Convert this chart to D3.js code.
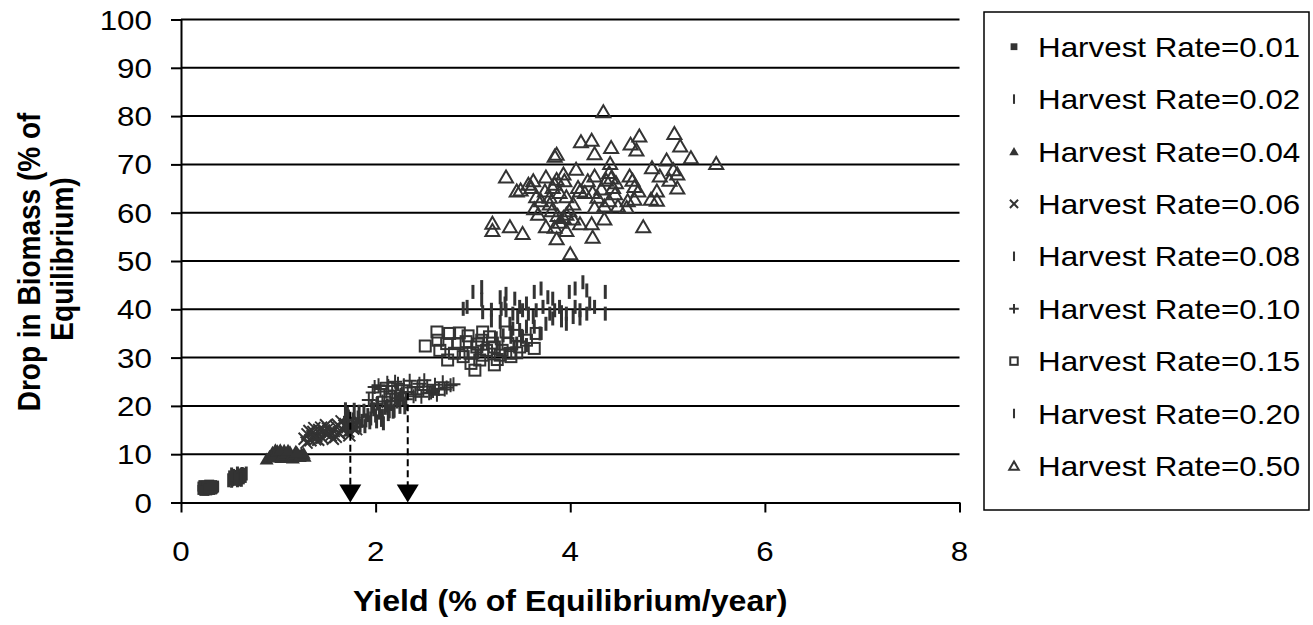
<!DOCTYPE html>
<html>
<head>
<meta charset="utf-8">
<script src="https://cdn.jsdelivr.net/npm/d3@7"></script>
<style>
  html, body { margin: 0; padding: 0; background: #fff; }
  svg { display: block; }
  text { font-family: "Liberation Sans", Arial, Helvetica, sans-serif; fill: #000; }
</style>
</head>
<body>
<svg id="chart" width="1313" height="625"></svg>
<script>
// ---- Data -------------------------------------------------------------
const seriesNames = ["Harvest Rate=0.01", "Harvest Rate=0.02", "Harvest Rate=0.04",
  "Harvest Rate=0.06", "Harvest Rate=0.08", "Harvest Rate=0.10",
  "Harvest Rate=0.15", "Harvest Rate=0.20", "Harvest Rate=0.50"];

const xTicks = [0, 2, 4, 6, 8];
const yTicks = [0, 10, 20, 30, 40, 50, 60, 70, 80, 90, 100];

const rate001X = [0.22,0.24,0.26,0.28,0.30,0.32,0.34,0.23,0.25,0.27,0.29,0.31,0.33,0.22,0.26,0.30,0.34,0.24,0.28,0.32];
const rate001Y = [2.6,3.0,2.8,3.4,3.1,2.7,3.5,3.6,3.3,2.5,3.7,3.2,2.9,3.3,3.5,2.6,3.1,2.4,3.0,3.6];

const rate002X = [0.49,0.51,0.53,0.55,0.57,0.59,0.61,0.63,0.65,0.67,0.50,0.52,0.54,0.56,0.58,0.60,0.62,0.64,0.66,0.52,0.58,0.62];
const rate002Y = [4.6,5.0,4.8,5.3,5.1,5.6,5.4,5.9,5.7,6.0,5.2,4.5,5.5,4.9,6.0,4.8,5.8,5.2,5.5,5.8,4.6,4.7];

const rate004X = [0.88,0.91,0.94,0.97,1.00,1.03,1.06,1.09,1.12,1.15,1.18,1.21,1.24,1.27,0.95,0.99,1.04,1.08,1.13,1.17,1.22,1.26,1.02,1.10,1.19];
const rate004Y = [9.0,9.6,10.4,10.9,10.2,9.3,10.8,9.8,10.5,9.2,10.6,9.9,10.1,9.6,9.4,10.7,9.9,10.3,9.5,10.0,9.5,10.2,10.9,10.8,10.4];

const rate006X = [1.27,1.30,1.33,1.36,1.39,1.42,1.45,1.48,1.51,1.54,1.57,1.60,1.63,1.66,1.69,1.72,1.75,1.78,1.32,1.38,1.44,1.50,1.56,1.62,1.68,1.74,1.80,1.35,1.47,1.59,1.71,1.29,1.41,1.53,1.65,1.77,1.37,1.49,1.61,1.73,1.83];
const rate006Y = [13.2,14.1,12.9,14.6,13.8,15.0,13.4,14.4,15.3,13.9,14.8,15.6,14.2,15.1,16.2,14.7,15.8,16.5,14.8,13.1,15.5,14.0,13.2,14.5,15.9,16.4,15.2,13.7,14.9,13.6,15.7,12.4,13.0,14.6,16.8,15.3,15.4,16.0,16.1,13.9,16.8];

const rate008X = [1.68,1.71,1.74,1.77,1.80,1.83,1.86,1.89,1.92,1.95,1.98,2.01,2.04,2.07,2.10,2.13,2.16,2.19,2.22,2.25,2.28,2.31,1.70,1.76,1.82,1.88,1.94,2.00,2.06,2.12,2.18,2.24,2.30,1.69,1.72,1.78,1.84,1.90,1.96,2.02,2.08,2.14,2.20,2.26];
const rate008Y = [16.5,18.4,15.3,17.2,16.0,18.8,16.9,15.8,18.1,17.4,19.3,16.8,18.6,17.9,19.6,18.3,20.4,19.0,20.9,19.8,21.6,20.5,15.1,16.3,17.6,19.0,16.6,18.0,17.1,20.1,18.8,21.4,19.7,19.3,17.8,19.2,15.9,17.0,19.9,20.6,16.4,18.9,21.7,22.3];

const rate010X = [1.93,1.97,2.01,2.05,2.09,2.13,2.17,2.21,2.25,2.29,2.33,2.37,2.41,2.45,2.49,2.53,2.57,2.61,2.65,2.69,2.73,2.77,1.99,2.07,2.15,2.23,2.31,2.39,2.47,2.55,2.63,2.71,2.11,2.27,2.43,2.59,2.03,2.12,2.20,2.35,2.50,2.80];
const rate010Y = [21.2,22.8,20.4,23.5,21.9,24.1,22.5,23.2,21.6,24.3,22.9,23.8,22.4,24.6,23.3,24.0,22.8,24.4,23.5,24.9,23.8,24.3,23.9,20.9,21.0,24.6,21.4,22.0,21.9,22.6,22.3,23.4,23.0,22.6,23.9,23.1,24.3,24.8,25.0,25.2,25.3,24.5];

const rate015X = [2.51,2.63,2.64,2.66,2.74,2.76,2.86,2.85,2.81,2.90,2.93,2.98,3.02,3.07,3.10,3.09,3.04,3.14,3.17,3.22,3.22,3.28,3.34,3.36,3.38,3.45,3.48,3.55,3.63,3.65,3.39,2.73,2.97,3.00,3.10,3.20,3.30,3.05,2.95,3.25,3.45];
const rate015Y = [32.4,35.3,33.6,31.5,29.5,35.0,35.1,32.9,30.9,30.2,33.3,28.8,27.4,29.5,35.3,33.6,32.2,31.5,34.3,32.2,28.5,30.5,35.3,32.9,30.9,34.6,32.2,33.6,31.9,35.0,30.2,32.9,30.9,31.0,30.5,33.0,31.5,32.8,34.5,29.6,31.0];

const rate020X = [3.09,3.09,3.00,2.90,2.94,3.10,3.19,3.28,3.34,3.33,3.43,3.48,3.55,3.63,3.70,3.77,3.82,3.99,4.05,4.13,4.17,4.36,4.36,4.25,4.20,4.10,4.10,4.03,3.96,3.91,3.96,3.91,3.84,3.79,3.75,3.72,3.65,3.62,3.57,3.51,3.46,3.41,3.38,3.34,3.29,3.28,3.19,3.41,3.48,3.55,3.63,3.69,3.51,3.39,3.31,3.24,3.45,3.55,3.82,3.89,4.17,4.05];
const rate020Y = [44.6,42.0,43.6,40.1,40.5,39.4,39.9,42.5,43.2,41.2,42.2,40.5,41.2,43.6,44.3,42.5,42.2,43.6,44.3,45.6,43.9,43.6,39.1,40.5,41.2,39.8,38.1,38.4,39.1,39.4,37.0,37.7,39.8,39.1,37.0,40.5,39.8,38.4,39.1,39.8,38.4,39.1,37.0,39.8,40.1,37.4,37.7,36.0,35.7,36.4,36.4,35.0,34.3,34.3,34.6,34.0,32.9,32.6,38.1,40.5,39.1,40.5];

const rate050X = [4.34,4.11,4.22,4.42,4.25,3.86,3.84,4.71,4.62,4.68,5.07,5.13,5.24,5.50,4.99,4.84,5.06,5.10,5.02,5.10,4.92,4.89,4.83,4.89,4.75,4.41,4.40,4.42,4.37,4.47,4.61,4.64,4.66,4.70,4.66,4.58,4.49,4.40,4.35,4.35,4.25,4.06,4.25,4.18,4.08,4.15,4.23,4.32,4.28,4.22,4.23,4.00,3.34,3.49,3.57,3.62,3.75,3.86,3.93,3.94,3.65,3.74,3.82,3.79,3.89,3.96,4.03,3.63,3.67,3.79,3.81,3.87,3.96,4.03,4.10,3.89,3.75,3.84,3.96,3.86,3.20,3.20,3.38,3.51,4.10,4.44,4.46,4.59,3.93,3.99,3.70,3.60,3.84,3.45];
const rate050Y = [80.9,74.7,75.0,73.5,72.2,72.1,71.7,75.9,74.2,73.0,76.4,73.8,71.4,70.2,70.9,69.3,68.9,68.0,66.7,65.1,67.6,64.5,62.8,62.6,57.1,70.2,68.3,67.2,66.7,66.2,67.6,66.7,65.4,64.5,62.8,61.1,61.4,62.5,61.4,58.7,61.1,69.0,67.6,66.6,65.2,64.2,64.2,64.9,63.2,57.7,54.9,51.5,67.4,64.7,65.9,66.6,67.4,66.9,68.0,66.6,63.3,64.5,65.2,63.2,64.2,63.3,61.8,60.8,59.7,61.8,60.4,59.4,59.7,58.7,57.7,58.0,57.1,57.0,56.3,54.6,57.8,56.3,57.1,55.7,64.5,65.2,63.9,62.5,59.0,60.4,62.5,65.2,65.9,64.5];

// Annotation arrows: yield at which each arrow points, and the drop where its line starts
const arrowYield = [1.74, 2.33];
const arrowDrop = [18.8, 22.6];

// ---- Layout -----------------------------------------------------------
const INK = "#333333";
const SX = 1.12;               // horizontal stretch applied to all text
const svg = d3.select("#chart");

const x = d3.scaleLinear().domain([0, 8]).range([181, 959.5]);
const y = d3.scaleLinear().domain([0, 100]).range([502.5, 19.5]);

// Marker shapes, drawn around (0,0); k scales them for the legend
const markers = {
  fsquare: (g, k) => g.append("rect").attr("x", -5*k).attr("y", -5*k).attr("width", 10*k).attr("height", 10*k).attr("fill", INK),
  dash: (g, k) => g.append("rect").attr("x", -1.5*k).attr("y", -7*k).attr("width", 3*k).attr("height", 14*k).attr("fill", INK),
  ftri: (g, k) => g.append("path").attr("d", `M${-7*k},${5.5*k}L0,${-6.5*k}L${7*k},${5.5*k}Z`).attr("fill", INK),
  xcross: (g, k) => g.append("path").attr("d", `M${-6*k},${-6*k}L${6*k},${6*k}M${-6*k},${6*k}L${6*k},${-6*k}`).attr("stroke", INK).attr("stroke-width", 2).attr("fill", "none"),
  plus: (g, k) => g.append("path").attr("d", `M${-7*k},0L${7*k},0M0,${-7*k}L0,${7*k}`).attr("stroke", INK).attr("stroke-width", 2).attr("fill", "none"),
  osquare: (g, k) => g.append("rect").attr("x", -5.5*k).attr("y", -5.5*k).attr("width", 11*k).attr("height", 11*k).attr("fill", "none").attr("stroke", INK).attr("stroke-width", 2),
  otri: (g, k) => g.append("path").attr("d", `M${-7*k},${5.5*k}L0,${-6.5*k}L${7*k},${5.5*k}Z`).attr("fill", "none").attr("stroke", INK).attr("stroke-width", 2).attr("stroke-linejoin", "miter")
};

const series = [
  { name: seriesNames[0], xs: rate001X, ys: rate001Y, shape: "fsquare" },
  { name: seriesNames[1], xs: rate002X, ys: rate002Y, shape: "dash" },
  { name: seriesNames[2], xs: rate004X, ys: rate004Y, shape: "ftri" },
  { name: seriesNames[3], xs: rate006X, ys: rate006Y, shape: "xcross" },
  { name: seriesNames[4], xs: rate008X, ys: rate008Y, shape: "dash" },
  { name: seriesNames[5], xs: rate010X, ys: rate010Y, shape: "plus" },
  { name: seriesNames[6], xs: rate015X, ys: rate015Y, shape: "osquare" },
  { name: seriesNames[7], xs: rate020X, ys: rate020Y, shape: "dash" },
  { name: seriesNames[8], xs: rate050X, ys: rate050Y, shape: "otri" }
];

function addText(parent, str, tx, ty, opts = {}) {
  return parent.append("text")
    .attr("transform", `translate(${tx},${ty}) scale(${SX},1)` + (opts.rotate ? ` rotate(${opts.rotate})` : ""))
    .attr("text-anchor", opts.anchor || "start")
    .attr("font-size", opts.size || 28)
    .attr("font-weight", opts.weight || "normal")
    .text(str);
}

// ---- Grid lines -------------------------------------------------------
svg.append("g").selectAll("line").data(yTicks.filter(d => d > 0)).join("line")
  .attr("x1", x(0)).attr("x2", x(8))
  .attr("y1", d => y(d)).attr("y2", d => y(d))
  .attr("stroke", "#000").attr("stroke-width", 2);

// ---- Axes -------------------------------------------------------------
const xAxis = svg.append("g").attr("transform", `translate(0,${y(0)})`)
  .call(d3.axisBottom(x).tickValues(xTicks).tickSize(10).tickSizeOuter(0).tickFormat(""));
const yAxis = svg.append("g").attr("transform", `translate(${x(0)},0)`)
  .call(d3.axisLeft(y).tickValues(yTicks).tickSize(10).tickSizeOuter(0).tickFormat(""));
[xAxis, yAxis].forEach(a => {
  a.select(".domain").attr("stroke", "#000").attr("stroke-width", 2);
  a.selectAll(".tick line").attr("stroke", "#000").attr("stroke-width", 2);
});

// Tick labels
yTicks.forEach(v => addText(svg, String(v), 152, y(v) + 10, { anchor: "end" }));
xTicks.forEach(v => addText(svg, String(v), x(v), 561, { anchor: "middle" }));

// ---- Data points ------------------------------------------------------
const plot = svg.append("g");
series.forEach(s => {
  const pts = d3.zip(s.xs, s.ys);
  plot.append("g").selectAll("g").data(pts).join("g")
    .attr("transform", d => `translate(${x(d[0])},${y(d[1])})`)
    .each(function () { markers[s.shape](d3.select(this), 1); });
});

// ---- Arrows -----------------------------------------------------------
const arrows = svg.append("g");
arrowYield.forEach((v, i) => {
  arrows.append("line")
    .attr("x1", x(v)).attr("x2", x(v))
    .attr("y1", y(arrowDrop[i])).attr("y2", y(0) - 14)
    .attr("stroke", "#000").attr("stroke-width", 2)
    .attr("stroke-dasharray", "7,4");
  arrows.append("path")
    .attr("d", `M${x(v) - 11},${y(0) - 18}L${x(v) + 11},${y(0) - 18}L${x(v)},${y(0)}Z`)
    .attr("fill", "#000");
});

// ---- Axis titles ------------------------------------------------------
addText(svg, "Yield (% of Equilibrium/year)", (x(0) + x(8)) / 2, 611, { anchor: "middle", weight: "bold", size: 28.7 });
addText(svg, "Drop in Biomass (% of", 40, 262, { anchor: "middle", weight: "bold", rotate: -90 });
addText(svg, "Equilibrium)", 73, 259, { anchor: "middle", weight: "bold", rotate: -90 });

// ---- Legend -----------------------------------------------------------
const legend = svg.append("g");
legend.append("rect").attr("x", 984).attr("y", 12).attr("width", 325).attr("height", 498)
  .attr("fill", "#fff").attr("stroke", "#000").attr("stroke-width", 1.5);
series.forEach((s, i) => {
  const cy = 46.7 + i * 52.4;
  const g = legend.append("g").attr("transform", `translate(1014,${cy})`);
  markers[s.shape](g, 0.68);
  addText(legend, s.name, 1038, cy + 10);
});
</script>
</body>
</html>
